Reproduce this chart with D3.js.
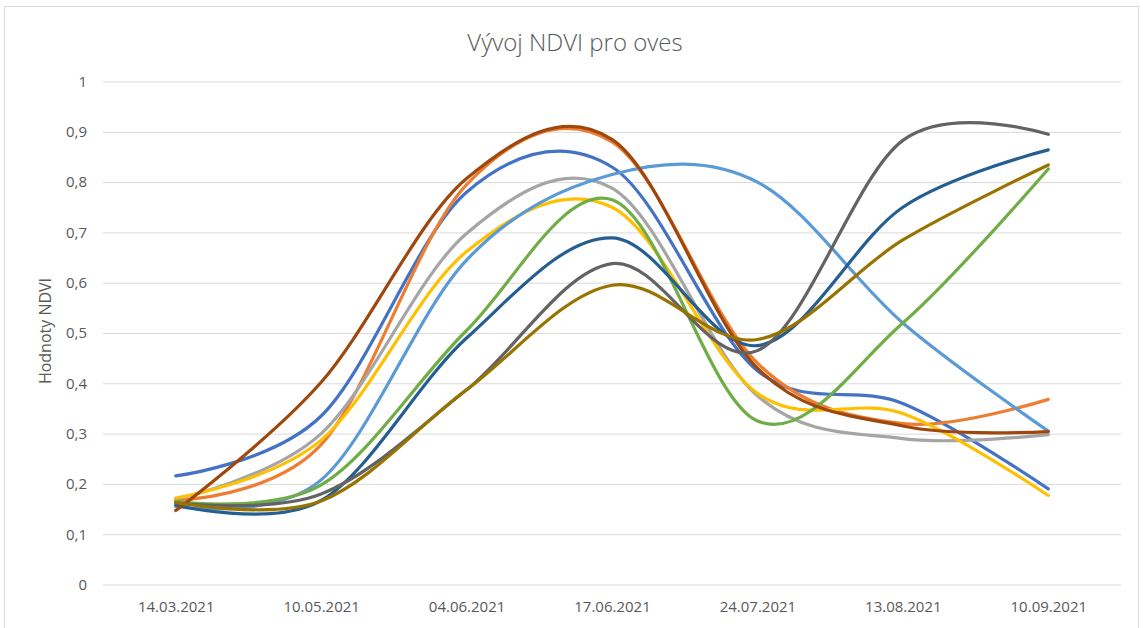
<!DOCTYPE html>
<html>
<head>
<meta charset="utf-8">
<title>Vývoj NDVI pro oves</title>
<script src="https://cdn.jsdelivr.net/npm/d3@7"></script>
<style>
  body { margin: 0; background: #fff; }
  svg text { font-family: "Open Sans", sans-serif; fill: #595959; }
</style>
</head>
<body>
<div id="chart"></div>
<script>
// categories (dates of the satellite scenes)
const dates = ["14.03.2021", "10.05.2021", "04.06.2021", "17.06.2021", "24.07.2021", "13.08.2021", "10.09.2021"];
const yTicks = [0, 0.1, 0.2, 0.3, 0.4, 0.5, 0.6, 0.7, 0.8, 0.9, 1];

// NDVI values per field
const pole1 = [0.216, 0.335, 0.78, 0.83, 0.425, 0.36, 0.19];
const pole2 = [0.167, 0.278, 0.795, 0.88, 0.44, 0.32, 0.368];
const pole3 = [0.17, 0.30, 0.698, 0.788, 0.375, 0.29, 0.298];
const pole4 = [0.172, 0.287, 0.662, 0.75, 0.38, 0.34, 0.177];
const pole5 = [0.155, 0.208, 0.645, 0.815, 0.80, 0.52, 0.305];
const pole6 = [0.165, 0.198, 0.505, 0.765, 0.325, 0.52, 0.826];
const pole7 = [0.158, 0.167, 0.49, 0.689, 0.475, 0.75, 0.864];
const pole8 = [0.147, 0.402, 0.807, 0.885, 0.43, 0.315, 0.304];
const pole9 = [0.162, 0.18, 0.387, 0.638, 0.465, 0.883, 0.895];
const pole10 = [0.163, 0.166, 0.387, 0.595, 0.487, 0.685, 0.834];

const seriesNames = ["Pole 1", "Pole 2", "Pole 3", "Pole 4", "Pole 5", "Pole 6", "Pole 7", "Pole 8", "Pole 9", "Pole 10"];
const seriesValues = [pole1, pole2, pole3, pole4, pole5, pole6, pole7, pole8, pole9, pole10];

class LineChart {

  constructor(_config, _data) {
    this.config = {
      parentElement: _config.parentElement,
      containerWidth: 1143,
      containerHeight: 628,
      margin: {top: 81.5, right: 22, bottom: 43.5, left: 103},
      colors: ["#4472C4", "#ED7D31", "#A5A5A5", "#FFC000", "#5B9BD5", "#70AD47", "#255E91", "#9E480E", "#636363", "#997300"]
    }
    this.data = _data;
    this.initVis();
  }

  initVis() {
    let vis = this;

    vis.width = vis.config.containerWidth - vis.config.margin.left - vis.config.margin.right;
    vis.height = vis.config.containerHeight - vis.config.margin.top - vis.config.margin.bottom;

    vis.xScale = d3.scalePoint()
        .range([0, vis.width])
        .padding(0.5);

    vis.yScale = d3.scaleLinear()
        .range([vis.height, 0]);

    vis.colorScale = d3.scaleOrdinal()
        .range(vis.config.colors);

    vis.xAxis = d3.axisBottom(vis.xScale)
        .tickSize(0)
        .tickPadding(17);

    vis.yAxis = d3.axisLeft(vis.yScale)
        .tickValues(yTicks)
        .tickSize(-vis.width)
        .tickPadding(16)
        .tickFormat(d => d3.format("~g")(d).replace(".", ","));

    vis.svg = d3.select(vis.config.parentElement).append('svg')
        .attr('width', vis.config.containerWidth)
        .attr('height', vis.config.containerHeight);

    // chart frame like in Excel
    vis.svg.append('rect')
        .attr('x', 4.5)
        .attr('y', 6.5)
        .attr('width', 1134)
        .attr('height', 660)
        .attr('fill', 'none')
        .attr('stroke', '#d9d9d9');

    vis.svg.append('text')
        .attr('class', 'chart-title')
        .attr('x', 575)
        .attr('y', 51)
        .attr('text-anchor', 'middle')
        .attr('font-size', 24)
        .attr('font-weight', 300)
        .text('Vývoj NDVI pro oves');

    vis.svg.append('text')
        .attr('class', 'axis-title')
        .attr('transform', 'translate(51,331) rotate(-90)')
        .attr('text-anchor', 'middle')
        .attr('font-size', 16)
        .text('Hodnoty NDVI');

    vis.chart = vis.svg.append('g')
        .attr('transform', `translate(${vis.config.margin.left},${vis.config.margin.top})`);

    vis.yAxisG = vis.chart.append('g')
        .attr('class', 'axis y-axis');

    vis.xAxisG = vis.chart.append('g')
        .attr('class', 'axis x-axis')
        .attr('transform', `translate(0,${vis.height})`);

    vis.updateVis();
  }

  updateVis() {
    let vis = this;

    vis.xScale.domain(dates);
    vis.yScale.domain([0, 1]);
    vis.colorScale.domain(vis.data.map(d => d.name));

    // Excel "smoothed line" is close to a Catmull-Rom / cardinal spline
    vis.line = d3.line()
        .x((d, i) => vis.xScale(dates[i]))
        .y(d => vis.yScale(d))
        .curve(d3.curveCardinal.tension(0));

    vis.renderVis();
  }

  renderVis() {
    let vis = this;

    vis.yAxisG.call(vis.yAxis)
        .call(g => g.select('.domain').remove())
        .call(g => g.selectAll('.tick line').attr('stroke', '#d9d9d9').attr('stroke-width', 1))
        .call(g => g.selectAll('.tick text').attr('font-size', 15).attr('fill', '#595959'));

    vis.xAxisG.call(vis.xAxis)
        .call(g => g.select('.domain').remove())
        .call(g => g.selectAll('.tick text').attr('font-size', 15).attr('fill', '#595959'));

    vis.chart.selectAll('.series')
        .data(vis.data, d => d.name)
      .join('path')
        .attr('class', 'series')
        .attr('d', d => vis.line(d.values))
        .attr('fill', 'none')
        .attr('stroke', d => vis.colorScale(d.name))
        .attr('stroke-width', 3.2)
        .attr('stroke-linecap', 'round')
        .attr('stroke-linejoin', 'round');
  }
}

const data = seriesNames.map((name, i) => ({name: name, values: seriesValues[i]}));
new LineChart({parentElement: '#chart'}, data);
</script>
</body>
</html>
